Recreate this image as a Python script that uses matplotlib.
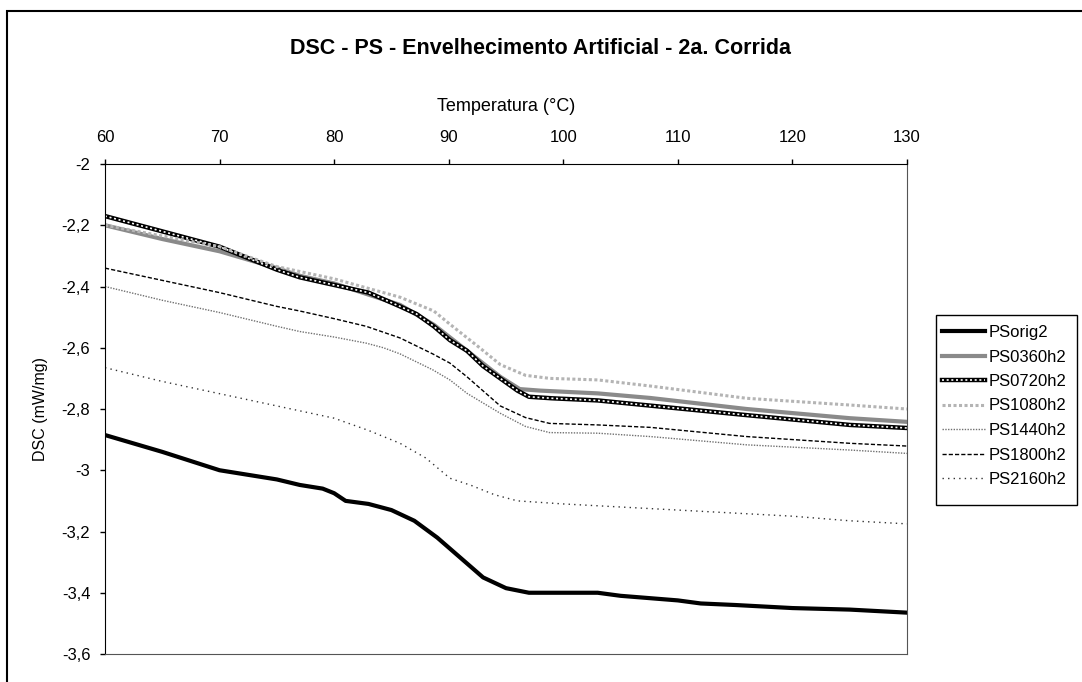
import matplotlib
matplotlib.use("Agg")
import matplotlib.pyplot as plt
from matplotlib.patches import Rectangle
from matplotlib.ticker import FuncFormatter, MultipleLocator

plt.rcParams['font.family'] = ['Liberation Sans', 'DejaVu Sans']

# dados (temperatura em C, DSC em mW/mg)
t_orig = [60, 65, 70, 75, 77, 79, 80, 81, 83, 85, 87, 89, 91, 93, 95, 97, 100, 103, 105, 110, 112, 115, 120, 125, 130]
dsc_orig = [-2.885, -2.94, -3.00, -3.03, -3.048, -3.06, -3.075, -3.10, -3.11, -3.13, -3.165, -3.22, -3.285, -3.35,
            -3.385, -3.40, -3.40, -3.40, -3.41, -3.425, -3.435, -3.44, -3.45, -3.455, -3.465]

t_0360 = [60, 65, 70, 75, 77, 80, 85.75, 88.7, 91.6, 94.5, 96.2, 98, 103, 107.6, 116, 125, 130]
dsc_0360 = [-2.20, -2.245, -2.285, -2.34, -2.365, -2.39, -2.46, -2.525, -2.61, -2.695, -2.735, -2.74, -2.749,
            -2.764, -2.80, -2.83, -2.842]

t_0720 = [60, 65, 70, 75, 77, 80, 83, 85.75, 87.2, 88.7, 90.1, 91.6, 93, 94.5, 96, 97, 99, 103, 107.6, 116, 125, 130]
dsc_0720 = [-2.17, -2.22, -2.27, -2.345, -2.37, -2.395, -2.42, -2.465, -2.49, -2.53, -2.575, -2.61, -2.66, -2.70,
            -2.74, -2.76, -2.765, -2.772, -2.789, -2.82, -2.852, -2.862]

t_1080 = [60, 65, 70, 75, 80, 85.75, 88.7, 90, 92.7, 94.5, 96.7, 98.8, 103, 107.6, 116, 125, 130]
dsc_1080 = [-2.20, -2.235, -2.27, -2.335, -2.375, -2.435, -2.48, -2.52, -2.60, -2.655, -2.69, -2.70, -2.705,
            -2.725, -2.765, -2.787, -2.80]

t_1440 = [60, 65, 70, 75, 77, 80, 82.8, 84.3, 85.75, 88.6, 90.1, 91.6, 94.5, 96.7, 98.8, 103, 107.6, 116, 125, 130]
dsc_1440 = [-2.40, -2.445, -2.485, -2.53, -2.547, -2.565, -2.585, -2.60, -2.62, -2.672, -2.705, -2.749, -2.814,
            -2.857, -2.877, -2.879, -2.89, -2.917, -2.934, -2.945]

t_1800 = [60, 65, 70, 75, 77, 80, 82.8, 85.75, 88.6, 90.1, 91.6, 94.5, 96.7, 98.8, 103, 107.6, 116, 125, 130]
dsc_1800 = [-2.34, -2.38, -2.42, -2.465, -2.48, -2.505, -2.53, -2.568, -2.62, -2.65, -2.695, -2.79, -2.828,
            -2.847, -2.852, -2.86, -2.89, -2.912, -2.921]

t_2160 = [60, 65, 70, 75, 80, 83, 85.75, 88, 90.1, 92, 94, 96, 98, 100, 105, 110, 115, 120, 125, 130]
dsc_2160 = [-2.665, -2.71, -2.75, -2.79, -2.83, -2.87, -2.912, -2.96, -3.026, -3.05, -3.08, -3.10, -3.105,
            -3.11, -3.12, -3.13, -3.14, -3.15, -3.165, -3.175]

W, H = 1082, 682
fig = plt.figure(figsize=(W / 100, H / 100), dpi=100)
ax = fig.add_axes([105 / W, 1 - 654 / H, (907 - 105) / W, (654 - 164) / H])

# moldura externa (recortada a direita e embaixo)
fig.add_artist(Rectangle((7 / W, -0.1), 1.2, 1 - 11 / H + 0.1, transform=fig.transFigure,
                         fill=False, edgecolor='black', linewidth=1.5))

l_orig, = ax.plot(t_orig, dsc_orig, color='black', linewidth=3.0)
l_0360, = ax.plot(t_0360, dsc_0360, color='#8a8a8a', linewidth=3.0)
l_0720a, = ax.plot(t_0720, dsc_0720, color='black', linewidth=3.2)
l_0720b, = ax.plot(t_0720, dsc_0720, color='white', linewidth=1.2, linestyle=(0, (1.2, 1.6)))
l_1080, = ax.plot(t_1080, dsc_1080, color='#b4b4b4', linewidth=2.2, linestyle=(0, (1, 0.8)))
l_1440, = ax.plot(t_1440, dsc_1440, color='#707070', linewidth=1.0, linestyle=(0, (1, 1)))
l_1800, = ax.plot(t_1800, dsc_1800, color='black', linewidth=1.0, linestyle=(0, (3, 1.5)))
l_2160, = ax.plot(t_2160, dsc_2160, color='#333333', linewidth=1.0, linestyle=(0, (1, 3)))

ax.set_xlim(60, 130)
ax.set_ylim(-3.6, -2)
ax.xaxis.set_major_locator(MultipleLocator(10))
ax.yaxis.set_major_locator(MultipleLocator(0.2))
ax.yaxis.set_major_formatter(FuncFormatter(lambda v, p: f'{v:g}'.replace('.', ',')))
ax.xaxis.tick_top()
ax.xaxis.set_label_position('top')
ax.tick_params(axis='x', direction='out', length=3.6, width=1, pad=10, labelsize=12, colors='black')
ax.tick_params(axis='y', direction='out', length=3.6, width=1, pad=7, labelsize=12, colors='black')
for s in ['top', 'left']:
    ax.spines[s].set_color('black')
for s in ['right', 'bottom']:
    ax.spines[s].set_color('#555555')

ax.set_xlabel('Temperatura (°C)', fontsize=13, labelpad=14)
ax.set_ylabel('DSC (mW/mg)', fontsize=11.5, labelpad=10)
fig.text(541 / W, 1 - 48 / H, 'DSC - PS - Envelhecimento Artificial - 2a. Corrida',
         ha='center', va='center', fontsize=15.5, fontweight='bold')

# caixa da legenda desenhada a parte
fig.add_artist(Rectangle((936 / W, 1 - 505 / H), (1077 - 936) / W, (505 - 315) / H,
                         transform=fig.transFigure, fill=True, facecolor='white',
                         edgecolor='black', linewidth=1.0, zorder=5))

handles = [l_orig, l_0360, (l_0720a, l_0720b), l_1080, l_1440, l_1800, l_2160]
labels = ['PSorig2', 'PS0360h2', 'PS0720h2', 'PS1080h2', 'PS1440h2', 'PS1800h2', 'PS2160h2']
leg = fig.legend(handles, labels, loc='upper left', bbox_to_anchor=(932 / W, 1 - 315 / H),
                 fontsize=12, frameon=False, borderaxespad=0,
                 handlelength=2.6, handletextpad=0.2, labelspacing=0.57, borderpad=0.6)
leg.set_zorder(6)

fig.savefig('out.png', dpi=100)
